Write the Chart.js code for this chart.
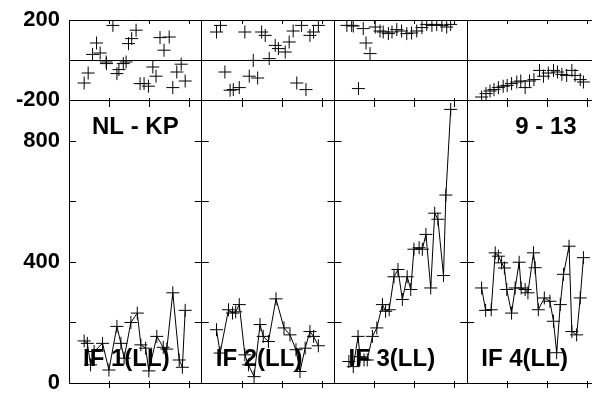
<!DOCTYPE html>
<html>
<head>
<meta charset="utf-8">
<script src="https://cdn.jsdelivr.net/npm/chart.js@4.4.1/dist/chart.umd.min.js"></script>
<style>
html, body { margin: 0; padding: 0; background: #fff; overflow: hidden; }
#wrap { width: 612px; height: 395px; }
</style>
</head>
<body>
<div id="wrap"><canvas id="myChart" width="612" height="395"></canvas></div>
<script>
// one panel spans this many x units, ticks every 10
var panelWidth = 33.25;
var xTicks = [10, 20, 30];

var panelNames = ["IF 1(LL)", "IF 2(LL)", "IF 3(LL)", "IF 4(LL)"];
var leftTitle = "NL - KP";
var rightTitle = "9 - 13";

var topTicks = [-200, 0, 200];
var topLabels = ["-200", "", "200"];
var bottomTicks = [0, 200, 400, 600, 800];
var bottomLabels = ["0", "", "400", "", "800"];

// panel 1
var p1TopX = [3.8, 4.8, 5.9, 6.9, 7.8, 9.3, 9.4, 11.0, 12.0, 12.5, 13.6, 14.3, 14.9, 15.7, 16.8, 17.8, 18.8, 19.9, 21.0, 21.8, 22.8, 23.8, 25.1, 26.0, 27.0, 28.1, 29.1];
var p1TopY = [-115, -65, 28, 85, 35, -10, -18, 173, -68, -48, -18, -10, 82, 107, 149, -118, -118, -131, -35, -81, 112, 49, 115, -138, -60, -21, -105];
var p1BotX = [3.8, 4.6, 5.4, 6.3, 8.4, 10.0, 12.0, 13.0, 13.8, 15.5, 17.1, 18.0, 19.2, 20.0, 22.0, 23.6, 24.5, 26.0, 27.6, 28.4, 29.1];
var p1BotY = [139, 131, 60, 104, 131, 43, 187, 131, 82, 200, 231, 126, 115, 40, 154, 118, 112, 298, 76, 52, 240];

// panel 2
var p2TopX = [3.7, 4.7, 5.8, 7.1, 7.9, 9.4, 10.8, 11.9, 12.9, 14.0, 15.0, 15.9, 16.9, 18.4, 19.2, 20.9, 21.9, 22.9, 23.8, 25.0, 26.1, 27.1, 28.0, 29.2];
var p2TopY = [140, 173, -60, -151, -148, -138, 140, -81, -2, -90, 140, 123, 7, 73, 57, 40, 90, 145, -115, 173, -148, 123, 140, 173];
var p2BotX = [3.7, 4.6, 6.7, 7.7, 8.5, 9.4, 10.8, 11.7, 13.1, 14.6, 15.4, 16.7, 18.6, 20.6, 22.1, 23.6, 24.6, 25.9, 27.1, 28.0, 29.2];
var p2BotY = [176, 99, 242, 231, 235, 259, 93, 60, 21, 193, 154, 137, 278, 182, 159, 110, 38, 115, 170, 154, 123];

// panel 3
var p3TopX = [3.1, 4.3, 4.7, 6.0, 7.2, 7.9, 8.9, 10.2, 11.4, 12.2, 13.5, 14.4, 15.6, 16.8, 18.1, 19.3, 20.6, 21.9, 23.1, 24.4, 25.6, 26.9, 28.1, 29.1];
var p3TopY = [173, 173, 170, -143, 157, 85, 32, 165, 145, 140, 132, 140, 152, 145, 132, 135, 145, 162, 178, 173, 178, 173, 165, 178];
var p3BotX = [3.6, 4.7, 5.9, 6.4, 7.4, 8.2, 9.5, 10.6, 12.0, 12.8, 13.7, 14.9, 15.9, 17.0, 18.2, 19.1, 19.9, 21.2, 22.0, 22.9, 24.1, 25.1, 25.9, 27.3, 27.9, 29.1];
var p3BotY = [71, 54, 154, 87, 76, 76, 154, 182, 259, 237, 242, 351, 375, 276, 351, 309, 442, 447, 442, 491, 314, 561, 541, 355, 621, 904];

// panel 4
var p4TopX = [3.6, 4.7, 5.7, 6.7, 7.8, 9.0, 10.0, 11.1, 12.4, 13.4, 14.5, 15.6, 16.7, 18.1, 19.1, 20.3, 21.6, 22.6, 23.7, 24.9, 26.2, 27.0, 28.3, 29.1];
var p4TopY = [-185, -168, -155, -148, -138, -131, -127, -118, -110, -105, -138, -105, -98, -52, -81, -65, -52, -60, -72, -77, -52, -77, -98, -110];
var p4BotX = [3.6, 4.6, 6.0, 7.0, 7.8, 8.6, 9.3, 9.9, 11.1, 12.0, 13.0, 13.5, 14.5, 15.2, 16.6, 17.0, 17.8, 19.3, 20.7, 21.6, 22.4, 23.3, 24.1, 25.5, 26.2, 27.4, 28.3, 29.1];
var p4BotY = [314, 240, 242, 430, 419, 397, 380, 309, 231, 314, 399, 314, 309, 298, 430, 381, 242, 281, 270, 204, 100, 259, 359, 452, 170, 159, 281, 414];

var topX = [p1TopX, p2TopX, p3TopX, p4TopX];
var topY = [p1TopY, p2TopY, p3TopY, p4TopY];
var botX = [p1BotX, p2BotX, p3BotX, p4BotX];
var botY = [p1BotY, p2BotY, p3BotY, p4BotY];

function points(xs, ys, panel) {
    return xs.map(function (x, i) {
        return { x: panel * panelWidth + x, y: ys[i] };
    });
}

var datasets = [];
for (var i = 0; i < 4; i++) {
    datasets.push({
        data: points(topX[i], topY[i], i),
        yAxisID: 'yT',
        showLine: false,
        pointStyle: 'cross',
        pointRadius: 6.5,
        pointBorderWidth: 1,
        borderColor: '#000'
    });
    datasets.push({
        data: points(botX[i], botY[i], i),
        yAxisID: 'yB',
        showLine: true,
        borderWidth: 1,
        pointStyle: 'cross',
        pointRadius: 6.5,
        pointBorderWidth: 1,
        borderColor: '#000'
    });
}

var tickFont = { family: '"Liberation Sans", Arial, sans-serif', size: 22, weight: 'bold' };

// y axes: fixed width, no extra room asked for the end labels
function fitLeft(scale) {
    scale.width = 69;
    scale.paddingTop = 0;
    scale.paddingBottom = 0;
}

// inner tick marks and panel labels
var panelMarks = {
    id: 'panelMarks',
    afterDatasetsDraw: function (chart) {
        var ctx = chart.ctx, a = chart.chartArea;
        var x = chart.scales.x, yT = chart.scales.yT, yB = chart.scales.yB;
        ctx.save();
        ctx.strokeStyle = '#000';
        ctx.lineWidth = 1;
        ctx.beginPath();
        for (var i = 0; i < 4; i++) {
            xTicks.forEach(function (t) {
                var px = Math.round(x.getPixelForValue(i * panelWidth + t)) + 0.5;
                ctx.moveTo(px, a.top); ctx.lineTo(px, a.top + 4);
                ctx.moveTo(px, yT.bottom - 2); ctx.lineTo(px, yT.bottom + 7);
                ctx.moveTo(px, a.bottom - 2); ctx.lineTo(px, a.bottom + 5);
            });
        }
        bottomTicks.forEach(function (v) {
            if (v === 0) return;
            var py = Math.round(yB.getPixelForValue(v)) + 0.5;
            for (var i = 0; i <= 4; i++) {
                var px = x.getPixelForValue(i * panelWidth);
                ctx.moveTo(i === 0 ? px : px - 7, py);
                ctx.lineTo(px + 7, py);
            }
        });
        ctx.stroke();

        ctx.fillStyle = '#000';
        ctx.font = 'bold 24px "Liberation Sans", Arial, sans-serif';
        ctx.textAlign = 'left';
        ctx.textBaseline = 'alphabetic';
        panelNames.forEach(function (n, i) {
            ctx.fillText(n, x.getPixelForValue(i * panelWidth) + 14, a.bottom - 17);
        });
        ctx.fillText(leftTitle, x.getPixelForValue(0) + 23, yT.bottom + 34);
        ctx.fillText(rightTitle, x.getPixelForValue(3 * panelWidth) + 48, yT.bottom + 34);
        ctx.restore();
    }
};

new Chart(document.getElementById('myChart'), {
    type: 'scatter',
    data: { datasets: datasets },
    plugins: [panelMarks],
    options: {
        responsive: false,
        animation: false,
        events: [],
        layout: { padding: { top: 20, right: 12, bottom: 12, left: 0 } },
        plugins: {
            legend: { display: false },
            tooltip: { enabled: false }
        },
        scales: {
            x: {
                type: 'linear',
                min: 0,
                max: 4 * panelWidth,
                afterBuildTicks: function (scale) {
                    scale.ticks = [0, 1, 2, 3, 4].map(function (i) { return { value: i * panelWidth }; });
                },
                afterFit: function (scale) { scale.height = 0; },
                ticks: { display: false, autoSkip: false },
                grid: { color: '#000', drawTicks: false },
                border: { color: '#000' }
            },
            yB: {
                type: 'linear',
                position: 'left',
                stack: 'v',
                stackWeight: 283,
                min: 0,
                max: 935,
                afterBuildTicks: function (scale) {
                    scale.ticks = bottomTicks.map(function (v) { return { value: v }; });
                },
                afterFit: fitLeft,
                ticks: {
                    color: '#000',
                    font: tickFont,
                    padding: 9,
                    autoSkip: false,
                    callback: function (v, i) { return bottomLabels[i]; }
                },
                grid: {
                    drawTicks: false,
                    color: function (c) { return c.tick && c.tick.value === 0 ? '#000' : 'rgba(0,0,0,0)'; }
                },
                border: { color: '#000' }
            },
            yT: {
                type: 'linear',
                position: 'left',
                stack: 'v',
                stackWeight: 80,
                min: -200,
                max: 200,
                afterBuildTicks: function (scale) {
                    scale.ticks = topTicks.map(function (v) { return { value: v }; });
                },
                afterFit: fitLeft,
                ticks: {
                    color: '#000',
                    font: tickFont,
                    padding: 9,
                    autoSkip: false,
                    callback: function (v, i) { return topLabels[i]; }
                },
                grid: { drawTicks: false, color: '#000' },
                border: { color: '#000' }
            }
        }
    }
});
</script>
</body>
</html>
